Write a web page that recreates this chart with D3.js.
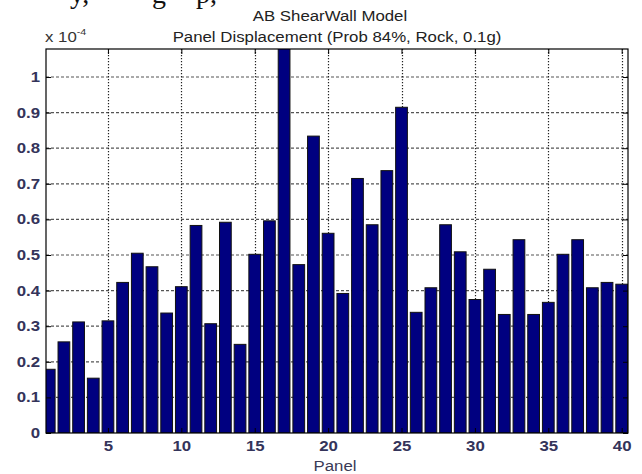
<!DOCTYPE html>
<html><head><meta charset="utf-8">
<script src="https://cdn.jsdelivr.net/npm/d3@7"></script>
<style>body{margin:0;background:#fff}svg{display:block}</style>
</head><body>
<script>
const panels = d3.range(1, 41);
const values = [0.179,0.256,0.312,0.154,0.315,0.423,0.505,0.467,0.337,0.411,
                0.583,0.307,0.592,0.249,0.502,0.596,1.2,0.473,0.834,0.561,
                0.392,0.715,0.585,0.737,0.915,0.339,0.408,0.585,0.509,0.375,
                0.46,0.333,0.543,0.333,0.367,0.502,0.543,0.408,0.423,0.418];
const xTicks = [5,10,15,20,25,30,35,40];
const yTicks = [0,0.1,0.2,0.3,0.4,0.5,0.6,0.7,0.8,0.9,1];
const titleLines = ["AB ShearWall Model","Panel Displacement (Prob 84%, Rock, 0.1g)"];
const xLabel = "Panel";
const topFragment = ["y,", "g", "p,"];

const W = 642, H = 474;
const L = 46, R = 628, T = 49, B = 433;
const SX = 1.2; // horizontal stretch of the reference's text
const svg = d3.select("body").append("svg").attr("width", W).attr("height", H);
const sans = "Liberation Sans, Arial, sans-serif";

function stretch(sel){
  sel.each(function(){
    const l = this.getComputedTextLength();
    d3.select(this).attr("textLength", l*SX).attr("lengthAdjust","spacingAndGlyphs");
  });
}

const x = d3.scaleLinear().domain([0.78, 40.43]).range([L, R]);
const y = d3.scaleLinear().domain([0, 1.0787]).range([B, T]);
const bw = (x(1.4) - x(0.6));

svg.append("defs").append("clipPath").attr("id","clip")
  .append("rect").attr("x",L).attr("y",T).attr("width",R-L).attr("height",B-T);

// fragment of text cut off at the top edge of the picture
const frag = svg.append("text").attr("y", 3)
  .attr("font-family","Liberation Serif, serif").attr("font-size",28).attr("fill","#111");
const fragX = [70, 152, 196];
topFragment.forEach((s,i)=>frag.append("tspan").attr("x", fragX[i]).text(s));

// grid
const g = svg.append("g").attr("clip-path","url(#clip)");
g.selectAll(".hg").data(yTicks.filter(d=>d>0)).join("line")
  .attr("x1",L).attr("x2",R).attr("y1",d=>y(d)).attr("y2",d=>y(d))
  .attr("stroke","#555").attr("stroke-width",1.2).attr("stroke-dasharray","3,2");
g.selectAll(".vg").data(xTicks).join("line")
  .attr("x1",d=>Math.round(x(d))+0.5).attr("x2",d=>Math.round(x(d))+0.5).attr("y1",T).attr("y2",B)
  .attr("stroke","#222").attr("stroke-width",1.2).attr("stroke-dasharray","1.2,1.8");

// bars
g.selectAll(".bar").data(panels).join("rect")
  .attr("x", (d)=>x(d)-bw/2).attr("width", bw)
  .attr("y", (d,i)=>y(values[i])).attr("height",(d,i)=>B-y(values[i]))
  .attr("fill","#000080").attr("stroke","#111").attr("stroke-width",1);

// axes
const lblColor = "#34345a";
const ya = svg.append("g").attr("transform",`translate(${L},0)`)
  .call(d3.axisLeft(y).tickValues(yTicks).tickSize(-5).tickPadding(6).tickFormat(d3.format("~g")));
const yr = svg.append("g").attr("transform",`translate(${R},0)`)
  .call(d3.axisRight(y).tickValues(yTicks).tickSize(-5).tickFormat(""));
const xa = svg.append("g").attr("transform",`translate(0,${B})`)
  .call(d3.axisBottom(x).tickValues(xTicks).tickSize(-5).tickPadding(8));
const xt = svg.append("g").attr("transform",`translate(0,${T})`)
  .call(d3.axisTop(x).tickValues(xTicks).tickSize(-5).tickFormat(""));
[ya,yr,xa,xt].forEach(a=>{
  a.select(".domain").remove();
  a.selectAll(".tick line").attr("stroke","#000");
  a.selectAll("text").attr("font-family",sans)
    .attr("font-size",14).attr("font-weight","bold").attr("fill",lblColor).call(stretch);
});
svg.append("rect").attr("x",L).attr("y",T).attr("width",R-L).attr("height",B-T)
  .attr("fill","none").attr("stroke","#000").attr("stroke-width",1.2);

// labels
svg.append("text").attr("x",335).attr("y",471).attr("text-anchor","middle")
  .attr("font-family",sans).attr("font-size",14).attr("fill","#3a3a55")
  .text(xLabel).call(stretch);
svg.selectAll(".title").data(titleLines).join("text")
  .attr("x",(d,i)=> i===0 ? 330 : 337).attr("y",(d,i)=> i===0 ? 21 : 42).attr("text-anchor","middle")
  .attr("font-family",sans).attr("font-size",14).attr("fill","#222")
  .text(d=>d).call(stretch);
const ex = svg.append("text").attr("transform","translate(45,42) scale(1.2,1)")
  .attr("font-family",sans).attr("font-size",14).attr("fill","#333");
ex.append("tspan").text("x 10");
ex.append("tspan").attr("dy",-7).attr("font-size",9).text("-4");
</script>
</body></html>
